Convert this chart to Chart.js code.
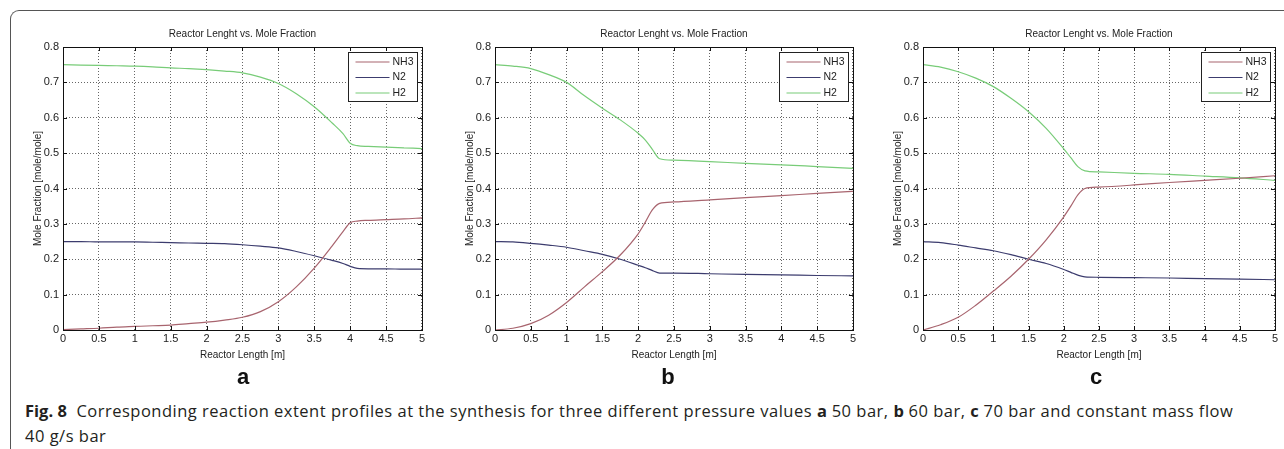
<!DOCTYPE html>
<html>
<head>
<meta charset="utf-8">
<script src="https://cdn.jsdelivr.net/npm/chart.js@4.4.0/dist/chart.umd.min.js"></script>
<style>
html,body{margin:0;padding:0;background:#fff;overflow:hidden;}
body{width:1284px;height:449px;position:relative;}
.frame{position:absolute;left:10px;top:10px;width:1300px;height:460px;border-left:1.5px solid #555;border-top:1.5px solid #555;border-top-left-radius:9px;}
canvas{position:absolute;top:20px;}
.tag{position:absolute;top:364px;font:bold 22px "Liberation Sans",Arial,sans-serif;transform:translateX(-50%);color:#111;}
.cap{position:absolute;left:25px;top:398px;font:16.5px "Open Sans",sans-serif;letter-spacing:0.5px;line-height:25px;color:#231f20;white-space:nowrap;}
.cap b{letter-spacing:0;}
</style>
</head>
<body>
<div class="frame"></div>
<canvas id="chartA" width="409" height="345" style="left:18px"></canvas>
<canvas id="chartB" width="408" height="345" style="left:450px"></canvas>
<canvas id="chartC" width="402" height="345" style="left:878px"></canvas>
<div class="tag" style="left:243px">a</div>
<div class="tag" style="left:668px">b</div>
<div class="tag" style="left:1096px">c</div>
<div class="cap"><b>Fig. 8</b>&nbsp; Corresponding reaction extent profiles at the synthesis for three different pressure values <b>a</b> 50 bar, <b>b</b> 60 bar, <b>c</b> 70 bar and constant mass flow<br>40 g/s bar</div>
<script>
const species = ["NH3", "N2", "H2"];
const colors = ["#a8646e", "#3c3c6e", "#78cc78"];
const xTicks = ["0", "0.5", "1", "1.5", "2", "2.5", "3", "3.5", "4", "4.5", "5"];
const yTicks = ["0", "0.1", "0.2", "0.3", "0.4", "0.5", "0.6", "0.7", "0.8"];

// a: 50 bar
const lenA = [0,0.25,0.5,0.75,1,1.25,1.5,1.75,2,2.25,2.5,2.75,3,3.25,3.5,3.75,3.9,4,4.1,4.25,4.5,4.75,5];
const nh3A = [0.001,0.003,0.005,0.008,0.010,0.012,0.014,0.018,0.022,0.028,0.036,0.052,0.080,0.122,0.175,0.238,0.278,0.303,0.308,0.310,0.312,0.314,0.317];
const n2A  = [0.250,0.250,0.249,0.249,0.249,0.248,0.247,0.246,0.245,0.244,0.241,0.237,0.232,0.222,0.210,0.197,0.188,0.180,0.174,0.173,0.173,0.172,0.172];
const h2A  = [0.750,0.749,0.748,0.747,0.746,0.744,0.741,0.739,0.736,0.732,0.727,0.715,0.697,0.668,0.631,0.585,0.555,0.528,0.521,0.519,0.517,0.515,0.513];

// b: 60 bar
const lenB = [0,0.25,0.5,0.75,1,1.25,1.5,1.75,2,2.1,2.2,2.3,2.5,3,3.5,4,4.5,5];
const nh3B = [0,0.005,0.018,0.042,0.078,0.122,0.165,0.212,0.272,0.305,0.340,0.358,0.362,0.368,0.374,0.380,0.386,0.392];
const n2B  = [0.250,0.249,0.245,0.240,0.234,0.224,0.214,0.200,0.183,0.176,0.168,0.161,0.161,0.159,0.157,0.156,0.154,0.153];
const h2B  = [0.750,0.746,0.739,0.722,0.700,0.662,0.627,0.594,0.556,0.537,0.510,0.484,0.480,0.476,0.471,0.467,0.462,0.457];

// c: 70 bar
const lenC = [0,0.25,0.5,0.75,1,1.25,1.5,1.75,2,2.1,2.2,2.3,2.5,3,3.5,4,4.5,5];
const nh3C = [0,0.015,0.036,0.070,0.110,0.152,0.200,0.255,0.320,0.350,0.382,0.400,0.404,0.410,0.417,0.423,0.429,0.436];
const n2C  = [0.250,0.247,0.240,0.232,0.224,0.213,0.200,0.188,0.171,0.163,0.155,0.150,0.149,0.148,0.147,0.145,0.144,0.142];
const h2C  = [0.750,0.743,0.730,0.712,0.688,0.655,0.617,0.570,0.512,0.487,0.462,0.450,0.447,0.443,0.440,0.435,0.430,0.423];

const FONT = '"Liberation Sans", Arial, sans-serif';

// box, inner ticks, title and legend like the matlab figure
const matlabBox = {
  id: "matlabBox",
  afterDraw(chart) {
    const {ctx, chartArea: a, scales: {x, y}} = chart;
    ctx.save();
    ctx.fillStyle = "#222";
    ctx.font = "10px " + FONT;
    ctx.textAlign = "center";
    ctx.textBaseline = "middle";
    ctx.fillText("Reactor Lenght vs. Mole Fraction", (a.left + a.right) / 2, a.top - 13);

    ctx.strokeStyle = "#111";
    ctx.lineWidth = 1;
    ctx.setLineDash([]);
    ctx.beginPath();
    x.ticks.forEach(t => {
      const px = Math.round(x.getPixelForValue(t.value)) + 0.5;
      ctx.moveTo(px, a.bottom); ctx.lineTo(px, a.bottom - 4);
      ctx.moveTo(px, a.top); ctx.lineTo(px, a.top + 4);
    });
    y.ticks.forEach(t => {
      const py = Math.round(y.getPixelForValue(t.value)) + 0.5;
      ctx.moveTo(a.left, py); ctx.lineTo(a.left + 4, py);
      ctx.moveTo(a.right, py); ctx.lineTo(a.right - 4, py);
    });
    ctx.stroke();
    ctx.strokeRect(Math.round(a.left) + 0.5, Math.round(a.top) + 0.5, Math.round(a.right - a.left), Math.round(a.bottom - a.top));

    // legend
    const bw = 69, bh = 49;
    const bx = Math.round(a.right - 5 - bw) + 0.5, by = Math.round(a.top + 5) + 0.5;
    ctx.fillStyle = "#fff";
    ctx.fillRect(bx, by, bw, bh);
    ctx.strokeStyle = "#222";
    ctx.strokeRect(bx, by, bw, bh);
    ctx.textAlign = "left";
    ctx.font = "10.5px " + FONT;
    chart.data.datasets.forEach((ds, i) => {
      const ry = by + 9.5 + i * 15.5;
      ctx.strokeStyle = ds.borderColor;
      ctx.lineWidth = 1.2;
      ctx.beginPath();
      ctx.moveTo(bx + 7, ry); ctx.lineTo(bx + 41, ry);
      ctx.stroke();
      ctx.fillStyle = "#222";
      ctx.fillText(ds.label, bx + 44, ry);
    });
    ctx.restore();
  }
};

function makeChart(id, lens, series) {
  return new Chart(document.getElementById(id), {
    type: "line",
    data: {
      datasets: series.map((vals, i) => ({
        label: species[i],
        data: lens.map((l, k) => ({x: l, y: vals[k]})),
        borderColor: colors[i],
        borderWidth: 1.2,
        pointRadius: 0,
        cubicInterpolationMode: "monotone"
      }))
    },
    options: {
      responsive: false,
      animation: false,
      layout: {padding: {left: 14, top: 27, right: 4, bottom: 0}},
      plugins: {legend: {display: false}, tooltip: {enabled: false}},
      scales: {
        x: {
          type: "linear", min: 0, max: 5,
          afterFit: s => { s.height = 35; },
          ticks: {stepSize: 0.5, padding: 2, color: "#222", font: {family: FONT, size: 11},
            maxRotation: 0, autoSkip: false,
            callback: (v, i) => xTicks[i]},
          grid: {color: "#666", lineWidth: 1, drawTicks: false},
          border: {display: false, dash: [1, 2]},
          title: {display: true, text: "Reactor Length [m]", color: "#222",
            font: {family: FONT, size: 10}, padding: {top: 0, bottom: 4}}
        },
        y: {
          min: 0, max: 0.8,
          afterFit: s => { s.width = 31; },
          ticks: {stepSize: 0.1, padding: 4, color: "#222", font: {family: FONT, size: 11},
            callback: (v, i) => yTicks[i]},
          grid: {color: "#666", lineWidth: 1, drawTicks: false},
          border: {display: false, dash: [1, 2]},
          title: {display: true, text: "Mole Fraction [mole/mole]", color: "#222",
            font: {family: FONT, size: 10}, padding: {top: 0, bottom: 0}}
        }
      }
    },
    plugins: [matlabBox]
  });
}

makeChart("chartA", lenA, [nh3A, n2A, h2A]);
makeChart("chartB", lenB, [nh3B, n2B, h2B]);
makeChart("chartC", lenC, [nh3C, n2C, h2C]);
</script>
</body>
</html>
